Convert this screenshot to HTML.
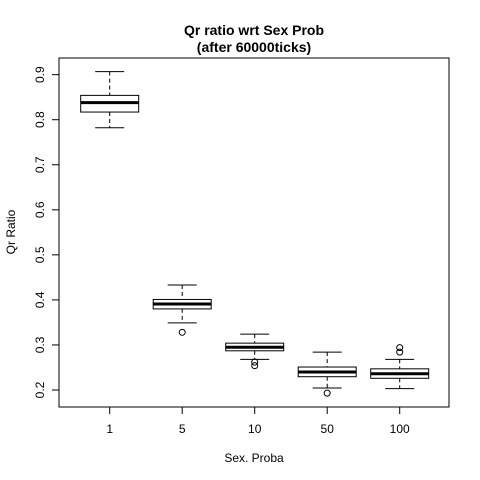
<!DOCTYPE html>
<html><head><meta charset="utf-8"><style>body{margin:0;background:#fff}svg{display:block;font-family:"Liberation Sans",Arial,sans-serif}</style></head>
<body>
<svg id="c" width="480" height="480" xmlns="http://www.w3.org/2000/svg">
<rect width="480" height="480" fill="#fff"/>
<text x="254" y="35" text-anchor="middle" font-size="14" font-weight="bold">Qr ratio wrt Sex Prob</text>
<text x="254" y="52" text-anchor="middle" font-size="14" font-weight="bold">(after 60000ticks)</text>
<text x="254" y="462" text-anchor="middle" font-size="12">Sex. Proba</text>
<text x="0" y="0" transform="translate(15,232) rotate(-90)" text-anchor="middle" font-size="12">Qr Ratio</text>
<rect x="59" y="58" width="390" height="349" fill="none" stroke="#000"/>
<g id="g"></g>
</svg>
<script>
const categories=["1","5","10","50","100"];
const lowWhisker=[0.782,0.349,0.268,0.2045,0.203];
const q1=[0.817,0.380,0.287,0.2295,0.226];
const medians=[0.838,0.391,0.295,0.240,0.236];
const q3=[0.854,0.401,0.304,0.251,0.247];
const highWhisker=[0.9066,0.433,0.324,0.284,0.268];
const outliers=[[],[0.328],[0.262,0.254],[0.193],[0.294,0.284]];
const yTicks=[0.2,0.3,0.4,0.5,0.6,0.7,0.8,0.9];
const NS="http://www.w3.org/2000/svg",g=document.getElementById('g');
function y(v){return 390-(v-0.2)*450.5;}
function x(i){return 109.7+i*72.5;}
function mk(t,a,p){const e=document.createElementNS(NS,t);for(const k in a)e.setAttribute(k,a[k]);(p||g).appendChild(e);return e;}
yTicks.forEach(v=>{
 const l=mk('line',{x1:52,x2:59,y1:y(v),y2:y(v),stroke:'#000'});
 
 
 const t=mk('text',{transform:`translate(44,${y(v)}) rotate(-90)`,'text-anchor':'middle','font-size':12});
 t.textContent=v.toFixed(1);
 
 
});
categories.forEach((c,i)=>{
 const cx=x(i);
 const tk=mk('line',{x1:cx,x2:cx,y1:407,y2:414,stroke:'#000'});
 
 
 const tl=mk('text',{x:cx,y:433,'text-anchor':'middle','font-size':12});
 tl.textContent=c;
 
 
 const bg=mk('g',{});
 
 
 mk('line',{x1:cx,x2:cx,y1:y(highWhisker[i]),y2:y(q3[i]),stroke:'#000','stroke-dasharray':'4,3'},bg);
 mk('line',{x1:cx,x2:cx,y1:y(q1[i]),y2:y(lowWhisker[i]),stroke:'#000','stroke-dasharray':'4,3'},bg);
 mk('line',{x1:cx-14.5,x2:cx+14.5,y1:y(highWhisker[i]),y2:y(highWhisker[i]),stroke:'#000'},bg);
 mk('line',{x1:cx-14.5,x2:cx+14.5,y1:y(lowWhisker[i]),y2:y(lowWhisker[i]),stroke:'#000'},bg);
 mk('rect',{x:cx-29,y:y(q3[i]),width:58,height:y(q1[i])-y(q3[i]),fill:'#fff',stroke:'#000'},bg);
 mk('line',{x1:cx-29,x2:cx+29,y1:y(medians[i]),y2:y(medians[i]),stroke:'#000','stroke-width':3},bg);
 outliers[i].forEach(o=>{
  const p=mk('circle',{cx:cx,cy:y(o),r:3,fill:'none',stroke:'#000'},bg);
  
  
 });
});
</script>
</body></html>
